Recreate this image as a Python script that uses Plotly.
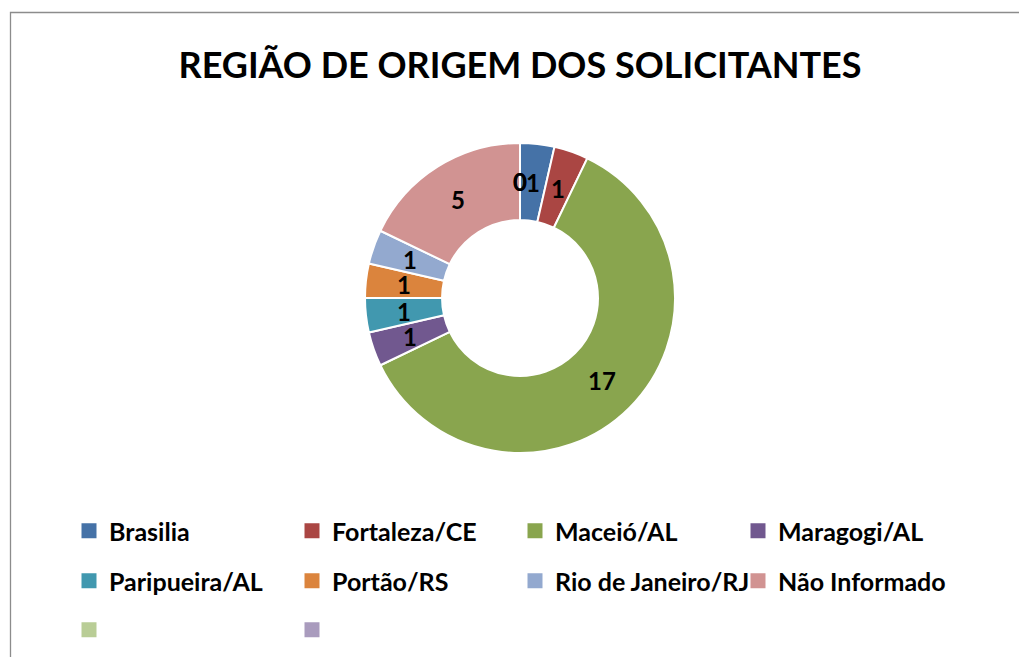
import math
import plotly.graph_objects as go

title = "REGIÃO DE ORIGEM DOS SOLICITANTES"
categories = ["Brasilia", "Fortaleza/CE", "Maceió/AL", "Maragogi/AL",
              "Paripueira/AL", "Portão/RS", "Rio de Janeiro/RJ", "Não Informado", "", ""]
values = [1, 1, 17, 1, 1, 1, 1, 5, 0, 0]
colors = ["#4572A7", "#AA4643", "#89A54E", "#71588F", "#4198AF",
          "#DB843D", "#93A9CF", "#D19392", "#B9CD96", "#A99BBD"]

FONT = "Lato"
W, H = 1019, 657


def px(x):
    return x / W


def py(y):
    return 1 - y / H


CX, CY, R = 520, 298, 155       # pixel centre and outer radius of the ring
hole = 0.503
dom_x = [px(CX - R), px(CX + R)]
dom_y = [py(CY + R), py(CY - R)]

nonzero = [i for i, v in enumerate(values) if v > 0]

fig = go.Figure()
fig.add_trace(go.Pie(
    labels=[categories[i] for i in nonzero],
    values=[values[i] for i in nonzero],
    marker=dict(colors=[colors[i] for i in nonzero], line=dict(color="white", width=2)),
    sort=False, direction="clockwise", rotation=0,
    hole=hole, domain=dict(x=dom_x, y=dom_y),
    textinfo="none", showlegend=False, hoverinfo="label+value",
))

# data labels, Excel-style: centred in the middle of the ring at each slice's mid-angle
total = sum(values)
rmid = R * (1 + hole) / 2
cum = 0
for i, v in enumerate(values):
    ang = 2 * math.pi * (cum + v / 2) / total
    fig.add_annotation(x=px(CX + rmid * math.sin(ang)), y=py(CY - rmid * math.cos(ang)),
                       xref="paper", yref="paper", text=str(v), showarrow=False,
                       font=dict(family=FONT, size=24, color="black", weight="bold"),
                       xanchor="center", yanchor="middle")
    cum += v

# legend entries (4 per row, three rows)
legend_names = ["legend", "legend2", "legend3"]
for i, (name, col) in enumerate(zip(categories, colors)):
    fig.add_trace(go.Scatter(
        x=[None], y=[None], mode="markers", name=name if name else " " * (i + 1),
        marker=dict(symbol="square", size=15, color=col),
        legend=legend_names[i // 4], showlegend=True, hoverinfo="skip",
    ))

row_y = [531, 581, 630]
leg_common = dict(orientation="h", entrywidth=178, entrywidthmode="pixels",
                  font=dict(family=FONT, size=25, color="black", weight="bold"),
                  xanchor="left", yanchor="middle", bgcolor="rgba(0,0,0,0)",
                  borderwidth=0, tracegroupgap=0)
layout_legends = {}
for k, ln in enumerate(legend_names):
    layout_legends[ln] = dict(leg_common, x=px(69), y=py(row_y[k]))

fig.update_layout(
    width=W, height=H, margin=dict(l=0, r=0, t=0, b=0),
    paper_bgcolor="white", plot_bgcolor="white",
    title=dict(text=title, x=px(520), xanchor="center", y=py(65), yanchor="middle",
               font=dict(family=FONT, size=36, color="black", weight="bold")),
    xaxis=dict(visible=False), yaxis=dict(visible=False),
    shapes=[dict(type="rect", xref="paper", yref="paper",
                 x0=px(10.5), x1=1.05, y0=-0.05, y1=py(12.5),
                 line=dict(color="#8C8C8C", width=1.3), fillcolor="rgba(0,0,0,0)",
                 layer="above")],
    **layout_legends,
)

fig.write_html("out.html",
               config={"displayModeBar": False},
               post_script="document.body.style.margin='0px';"
                           "document.body.style.overflow='hidden';")
